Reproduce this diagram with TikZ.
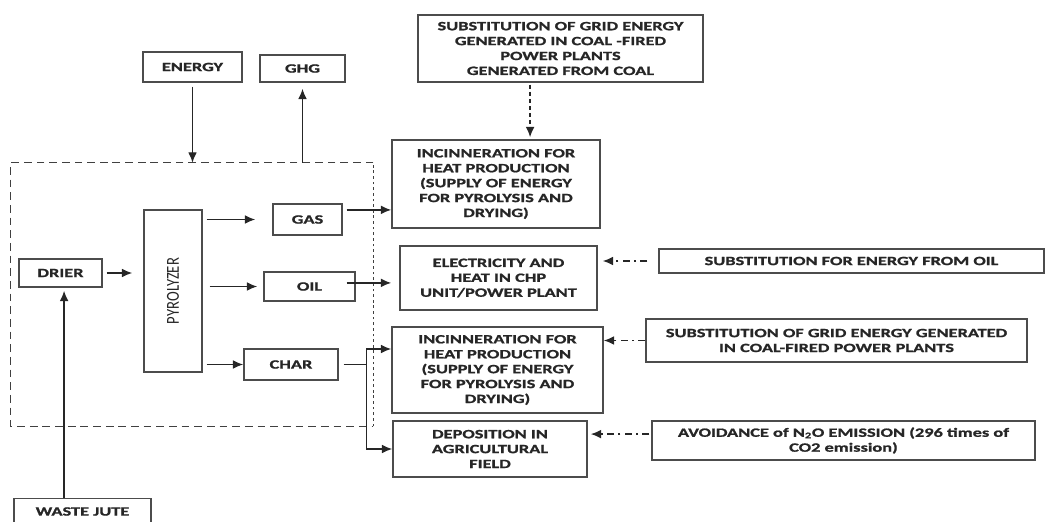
\documentclass[tikz,border=0pt]{standalone}
\usepackage{fontspec}
\setmainfont{Carlito}[FakeStretch=1.45,BoldFeatures={FakeBold=1.2}]
\newfontfamily\pyrofont{Carlito}[FakeStretch=0.8]
\usepackage{tikz}
\usepackage{xcolor}
\usetikzlibrary{arrows.meta,calc}

\begin{document}
\begin{tikzpicture}[x=0.025cm,y=-0.025cm,>={Latex[length=2.6mm,width=2.2mm]},
  box/.style={draw=black!70,line width=1pt,align=center,inner sep=1pt,
    text=black!85,font=\fontsize{9}{10.6}\selectfont\bfseries},
  flow/.style={->,draw=black!85,line width=1pt},
  dashdot/.style={dash pattern=on 5pt off 3pt on 1.5pt off 3pt}]
  \useasboundingbox (0,0) rectangle (1045,521);

  \node[minimum width=9.05cm,minimum height=6.575cm] (plant) at (192,294.5) {};
  \draw[black!75,line width=1pt,dash pattern=on 5.5pt off 3.5pt]
    (plant.north east) -- (plant.north west) -- (plant.south west) -- (plant.south east);
  \draw[black!75,line width=1pt,dash pattern=on 2pt off 2pt]
    (plant.south east) -- (plant.north east);

  \node[box,minimum width=2.475cm,minimum height=0.75cm] (energy) at (192.5,67) {ENERGY};
  \node[box,minimum width=2.125cm,minimum height=0.675cm] (ghg) at (302.5,68.5) {GHG};
  \node[box,minimum width=7.125cm,minimum height=1.675cm] (subtop) at (560.5,48.5)
    {SUBSTITUTION OF GRID ENERGY\\GENERATED IN COAL -FIRED\\POWER PLANTS\\GENERATED FROM COAL};
  \node[box,minimum width=5.2cm,minimum height=2.2cm] (incin1) at (496,184)
    {INCINNERATION FOR\\HEAT PRODUCTION\\(SUPPLY OF ENERGY\\FOR PYROLYSIS AND\\DRYING)};
  \node[box,minimum width=1.725cm,minimum height=0.775cm] (gas) at (307.5,219.5) {GAS};
  \node[box,minimum width=1.45cm,minimum height=4.05cm] (pyro) at (173,291)
    {\rotatebox{90}{\fontsize{13}{13}\selectfont\mdseries\pyrofont PYROLYZER}};
  \node[box,minimum width=2.075cm,minimum height=0.7cm] (drier) at (60.5,273) {DRIER};
  \node[box,minimum width=2.275cm,minimum height=0.725cm] (oil) at (309.5,286.5) {OIL};
  \node[box,minimum width=4.925cm,minimum height=1.6cm] (elec) at (498.5,278)
    {ELECTRICITY AND\\HEAT IN CHP\\UNIT/POWER PLANT};
  \node[box,minimum width=2.35cm,minimum height=0.775cm] (char) at (291,364.5) {CHAR};
  \node[box,minimum width=5.275cm,minimum height=2.15cm] (incin2) at (497.5,370)
    {INCINNERATION FOR\\HEAT PRODUCTION\\(SUPPLY OF ENERGY\\FOR PYROLYSIS AND\\DRYING)};
  \node[box,minimum width=4.85cm,minimum height=1.4cm] (depo) at (490,449)
    {DEPOSITION IN\\AGRICULTURAL\\FIELD};
  \node[box,minimum width=9.625cm,minimum height=0.6cm] (suboil) at (851.5,261)
    {SUBSTITUTION FOR ENERGY FROM OIL};
  \node[box,minimum width=9.525cm,minimum height=1.075cm] (subgrid) at (836.5,340.5)
    {SUBSTITUTION OF GRID ENERGY GENERATED\\IN COAL-FIRED POWER PLANTS};
  \node[box,minimum width=9.575cm,minimum height=0.975cm] (avoid) at (843.5,440.5)
    {AVOIDANCE of N\textsubscript{2}O EMISSION (296 times of\\CO2 emission)};
  \node[box,anchor=north,minimum width=3.425cm,text height=11pt,text depth=0.6cm] (waste)
    at (82.5,498) {WASTE JUTE};

  \coordinate (gasout) at ([yshift=2.4mm]gas.east);
  \coordinate (oilout) at ([xshift=-2.25mm,yshift=0.9mm]oil.east);
  \coordinate (charjoin) at ([xshift=7mm]char.east);
  \coordinate (gridin) at ([xshift=-7.6mm]subtop.south);
  \coordinate (avoidout) at ([yshift=1.6mm]avoid.west);
  \coordinate (jutein) at ([xshift=0.9mm]drier.south);

  \draw[flow,shorten <=1mm] (energy) -- (energy |- plant.north);
  \draw[flow,shorten >=1.5mm] (ghg |- plant.north) -- (ghg);
  \draw[flow,shorten <=1mm,shorten >=2.75mm] (drier.east) -- (drier.east -| pyro.west);
  \draw[flow,shorten >=0.75mm] (jutein |- waste.north) -- (jutein);
  \foreach \out/\gapa/\gapb in {gas/1mm/4.25mm,oil/1.75mm/1.5mm,char/1mm/0mm}
    \draw[flow,shorten <=\gapa,shorten >=\gapb] (pyro.east |- \out) -- (\out);
  \draw[flow,shorten <=1mm] (gasout) -- (gasout -| incin1.west);
  \draw[flow,shorten >=2mm] (oilout) -- (oilout -| elec.west);
  \draw[black!85,line width=1pt,shorten <=1.25mm] (char.east) -- (charjoin);
  \draw[flow] (charjoin) |- ([yshift=5.25mm]incin2.west);
  \draw[flow] (charjoin) |- (depo.west);
  \draw[flow,densely dashed,shorten <=0.5mm,shorten >=0.5mm] (gridin) -- (gridin |- incin1.north);
  \draw[flow,dashdot,shorten <=2.75mm,shorten >=1.25mm] (suboil.west) -- (suboil.west -| elec.east);
  \draw[flow,dashdot] (subgrid.west) -- (subgrid.west -| incin2.east);
  \draw[flow,dashdot,shorten <=0.5mm,shorten >=0.75mm] (avoidout) -- (avoidout -| depo.east);
\end{tikzpicture}
\end{document}
